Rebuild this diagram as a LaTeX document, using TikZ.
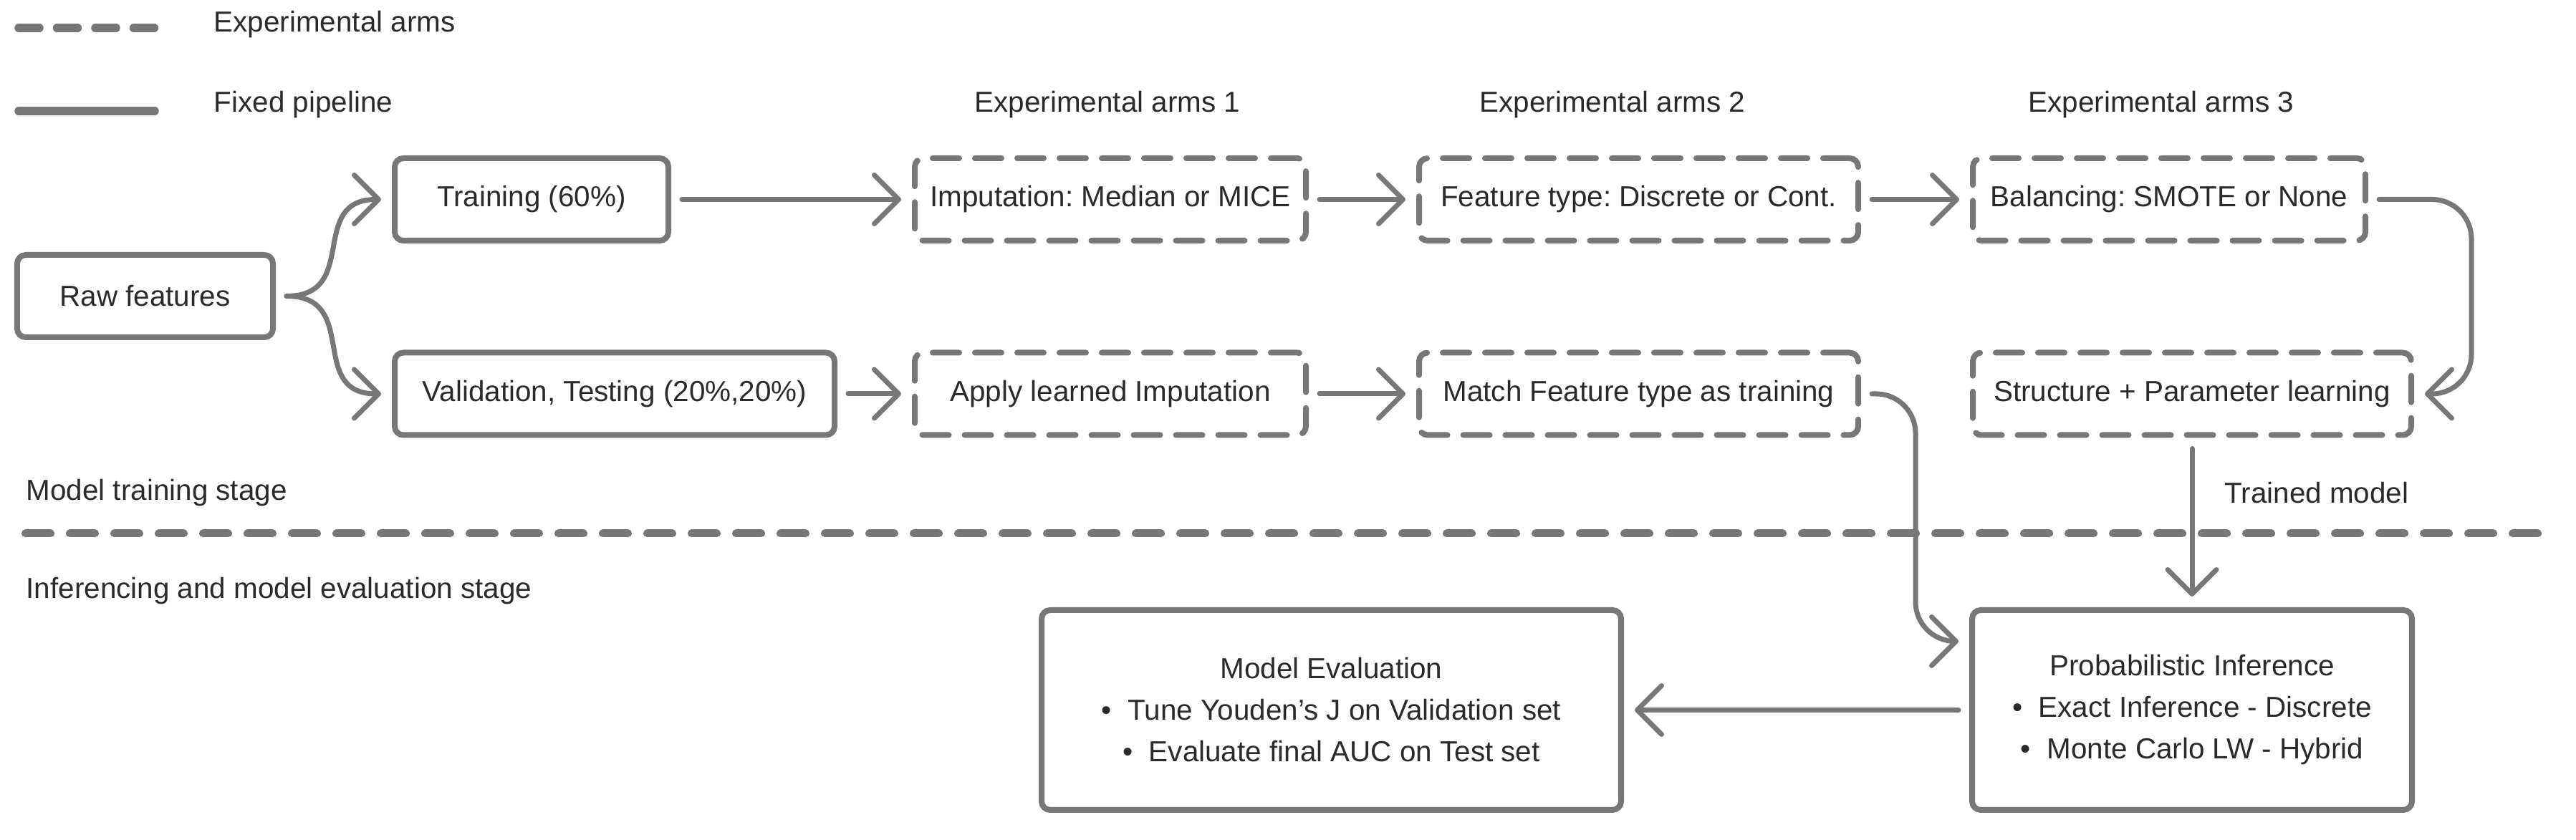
\documentclass[tikz,border=0pt]{standalone}
\usepackage{fontspec}
\setmainfont{Liberation Sans}
\usetikzlibrary{arrows.meta,calc}
\definecolor{linegray}{HTML}{777777}
\definecolor{inkgray}{HTML}{2A2A2A}
\frenchspacing

\begin{document}
\begin{tikzpicture}[
	txt/.style={ text=inkgray, font=\fontsize{11.5pt}{16.5pt}\selectfont },
	stagebox/.style={ txt, draw=linegray, line width=0.08cm, rounded corners=0.12cm, inner sep=0pt, outer sep=0.19cm, minimum height=1.15cm, align=center },
	armbox/.style={ stagebox, dash pattern=on 0.37cm off 0.22cm, line cap=round },
	caption/.style={ txt, inner sep=0pt, anchor=west },
	header/.style={ txt, inner sep=0pt },
	flow/.style={ draw=linegray, line width=0.07cm, line cap=round, line join=round, -{Straight Barb[length=0.34cm,width=0.68cm,round]} },
	legendline/.style={ draw=linegray, line width=0.115cm, line cap=round },
	divider/.style={ draw=linegray, line width=0.11cm, line cap=round, dash pattern=on 0.35cm off 0.27cm }
]
\useasboundingbox (0,0) rectangle (35.96,-11.73);

% legend
\draw[legendline, dash pattern=on 0.29cm off 0.245cm] (0.26,-0.39) -- (2.16,-0.39);
\node at (2.98,-0.34) (legarms) [caption] {Experimental arms};
\draw[legendline] (0.26,-1.55) -- (2.16,-1.55);
\node at (2.98,-1.46) (legfixed) [caption] {Fixed pipeline};

\node at (15.46,-1.46) (armsone) [header] {Experimental arms 1};
\node at (22.51,-1.46) (armstwo) [header] {Experimental arms 2};
\node at (30.17,-1.46) (armsthree) [header] {Experimental arms 3};

% training stage
\node at (2.025,-4.135) (raw) [stagebox, minimum width=3.57cm] {Raw features};
\node at (7.42,-2.785) (train) [stagebox, minimum width=3.82cm] {Training (60\%)};
\node at (8.58,-5.50) (valid) [stagebox, minimum width=6.14cm] {Validation, Testing (20\%,20\%)};
\foreach \p in {train,valid} \draw[flow] (raw.east) to[out=0,in=180,looseness=1.4] (\p.west);

\node at (15.50,-2.785) (imp) [armbox, minimum width=5.46cm] {Imputation: Median or MICE};
\node at (22.875,-2.785) (feat) [armbox, minimum width=6.13cm] {Feature type: Discrete or Cont.};
\node at (30.28,-2.785) (bal) [armbox, minimum width=5.48cm] {Balancing: SMOTE or None};
\node at (15.50,-5.50) (apply) [armbox, minimum width=5.46cm] {Apply learned Imputation};
\node at (22.875,-5.50) (match) [armbox, minimum width=6.13cm] {Match Feature type as training};
\node at (30.60,-5.50) (struct) [armbox, minimum width=6.12cm] {Structure + Parameter learning};
\foreach \a/\b in {train/imp,imp/feat,feat/bal,valid/apply,apply/match} \draw[flow] (\a) to (\b);
\draw[flow, rounded corners=0.55cm] (bal.east) -| ($(struct.east)+(0.65,0)$) -- (struct.east);

% stage split
\node at (0.36,-6.88) (trainstage) [caption] {Model training stage};
\draw[divider] (0.355,-7.45) -- (35.68,-7.45);
\node at (0.36,-8.25) (inferstage) [caption] {Inferencing and model evaluation stage};

% inference and evaluation
\node at (30.60,-9.915) (prob) [stagebox, minimum width=6.14cm, minimum height=2.79cm] {Probabilistic Inference\\ \textbullet\ \ Exact Inference - Discrete\\ \textbullet\ \ Monte Carlo LW - Hybrid};
\node at (18.585,-9.915) (eval) [stagebox, minimum width=8.09cm, minimum height=2.79cm] {Model Evaluation\\ \textbullet\ \ Tune Youden’s J on Validation set\\ \textbullet\ \ Evaluate final AUC on Test set};
\draw[flow] (struct) to node[pos=0.3, caption, xshift=0.42cm] (trained) {Trained model} (prob);
\draw[flow, rounded corners=0.55cm] (match.east) -| ($(prob.west)+(-0.6,0.96)$) -- ($(prob.west)+(0,0.96)$);
\draw[flow] (prob) to (eval);

\end{tikzpicture}
\end{document}
